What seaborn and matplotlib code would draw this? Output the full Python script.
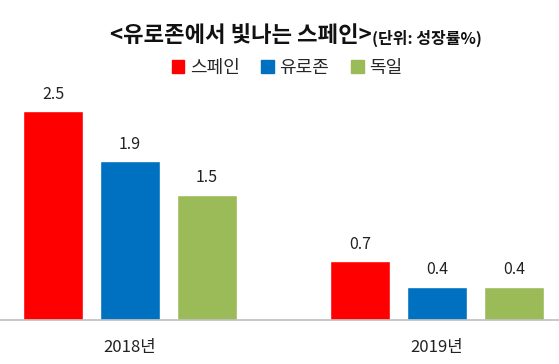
import pandas as pd
import matplotlib
matplotlib.use("Agg")
import matplotlib.pyplot as plt
import seaborn as sns

# 데이터
years = ['2018년', '2019년']
regions = ['스페인', '유로존', '독일']
spain = [2.5, 0.7]
eurozone = [1.9, 0.4]
germany = [1.5, 0.4]

df = pd.DataFrame({
    'year': years * 3,
    'region': [r for r in regions for _ in years],
    'growth': spain + eurozone + germany,
})

colors = ['#FF0000', '#0070C0', '#9BBB59']

sns.set_style('white')
plt.rcParams['font.family'] = ['Noto Sans CJK KR', 'DejaVu Sans']

fig = plt.figure(figsize=(5.59, 3.64), dpi=100)
ax = fig.add_axes([0.0, 0.1209, 1.0, 0.689])

sns.barplot(data=df, x='year', y='growth', hue='region', hue_order=regions,
            order=years, palette=colors, width=0.75, gap=0.22, ax=ax,
            saturation=1, legend=False, errorbar=None)

for cont in ax.containers:
    ax.bar_label(cont, fmt='%.1f', padding=6, fontsize=11.5, color='#222222')

ax.set_xlim(-0.423, 1.397)
ax.set_ylim(0, 3.0)
ax.set_xlabel('')
ax.set_ylabel('')
ax.set_yticks([])
ax.tick_params(axis='x', length=0, pad=14, labelsize=12, labelcolor='#222222')
for s in ['top', 'right', 'left']:
    ax.spines[s].set_visible(False)
ax.spines['bottom'].set_color('#BFBFBF')
ax.spines['bottom'].set_linewidth(1.2)

# 제목
fig.text(372 / 559, 1 - 36 / 364, '<유로존에서 빛나는 스페인>', ha='right', va='center',
         fontsize=16, fontweight='bold', color='#111111')
fig.text(372 / 559, 1 - 38 / 364, '(단위: 성장률%)', ha='left', va='center',
         fontsize=11.5, fontweight='bold', color='#111111')

# 범례
handles = [plt.Rectangle((0, 0), 1, 1, color=c) for c in colors]
fig.legend(handles, regions, loc='center', bbox_to_anchor=(287 / 559, 1 - 68 / 364),
           ncol=3, frameon=False, fontsize=13, handlelength=0.7, handleheight=0.7,
           handletextpad=0.3, columnspacing=1.2)

fig.savefig('out.png', dpi=100)
